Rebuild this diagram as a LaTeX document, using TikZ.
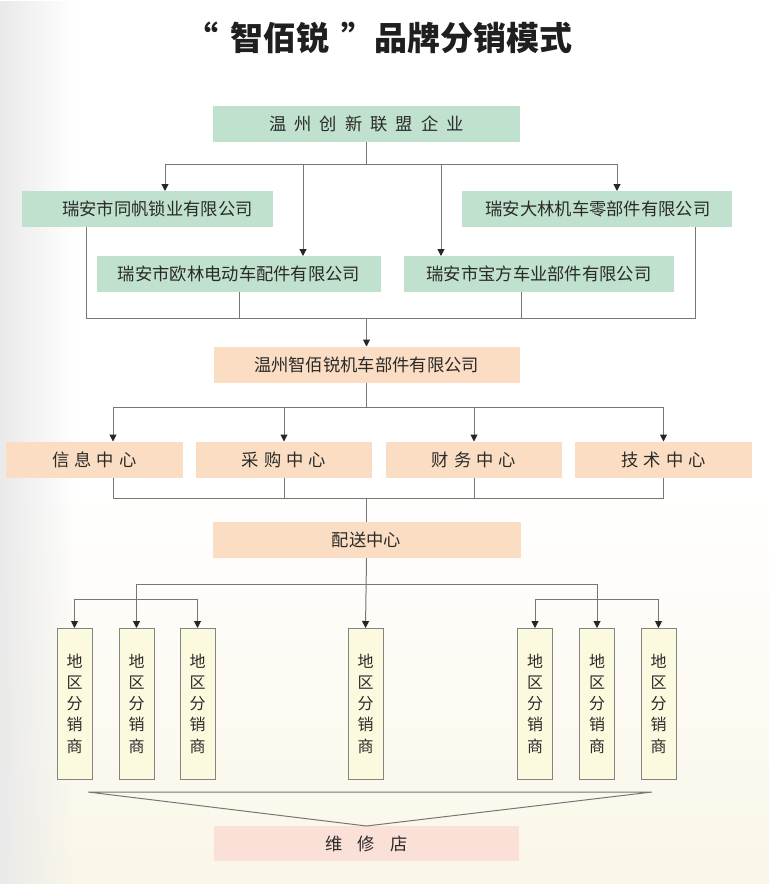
\documentclass[tikz,border=0pt]{standalone}
\usepackage{fontspec}
\setmainfont{Noto Sans CJK SC}
\usetikzlibrary{arrows.meta,fadings}
\definecolor{grn}{RGB}{191,225,205}
\definecolor{pch}{RGB}{250,221,194}
\definecolor{ylw}{RGB}{252,250,222}
\definecolor{pnk}{RGB}{250,224,215}
\definecolor{lnc}{RGB}{118,118,118}
\definecolor{txt}{RGB}{42,42,42}
\definecolor{crm}{RGB}{250,246,232}
\definecolor{lgr}{RGB}{234,234,234}
\newcommand\gapx[1]{\hspace{#1pt}}
\begin{document}
\begin{tikzpicture}[x=1pt,y=-1pt,
  box/.style={inner sep=0pt, outer sep=0pt, text=txt, font=\fontsize{17.3}{17.3}\selectfont},
  gbox/.style={box, fill=grn, minimum height=36pt},
  pbox/.style={box, fill=pch, minimum height=36pt},
  dist/.style={box, fill=ylw, draw=lnc!90, line width=0.9pt, minimum width=35pt, minimum height=151pt, align=center, font=\fontsize{16}{21.3}\selectfont},
  ln/.style={draw=lnc, line width=1pt},
  ar/.style={ln, -{Triangle[length=7pt,width=7pt,color=black!85]}}]
% background
\useasboundingbox (0,0) rectangle (769,884);
\fill[white] (0,0) rectangle (769,884);
\shade[top color=white, bottom color=crm] (0,480) rectangle (769,884);
\fill[lgr, path fading=east] (0,0) rectangle (75,884);
% title
\node[text=black!88, font=\fontsize{33}{33}\selectfont\bfseries] (title) at (379,38) {“\gapx{12}智佰锐\gapx{12}”品牌分销模式};
% level 1
\node[gbox, minimum width=307pt] (T) at (366.5,124) {温\gapx{8}州\gapx{8}创\gapx{8}新\gapx{8}联\gapx{8}盟\gapx{8}企\gapx{8}业};
\node[gbox, minimum width=251pt] (A) at (147.5,209) {\hspace*{20pt}瑞安市同帆锁业有限公司};
\node[gbox, minimum width=270pt] (D) at (597,209) {\hspace*{2pt}瑞安大林机车零部件有限公司};
\node[gbox, minimum width=284pt] (B) at (239,274) {瑞安市欧林电动车配件有限公司};
\node[gbox, minimum width=270pt] (C) at (539,274) {瑞安市宝方车业部件有限公司};
% level 2
\node[pbox, minimum width=306pt] (E) at (366.5,364.5) {温州智佰锐机车部件有限公司};
\node[pbox, minimum width=177pt] (F1) at (94.5,459.5) {信\gapx{5}息\gapx{5}中\gapx{5}心};
\node[pbox, minimum width=176pt] (F2) at (284,459.5) {采\gapx{5}购\gapx{5}中\gapx{5}心};
\node[pbox, minimum width=176pt] (F3) at (474,459.5) {财\gapx{5}务\gapx{5}中\gapx{5}心};
\node[pbox, minimum width=177pt] (F4) at (663.5,459.5) {技\gapx{5}术\gapx{5}中\gapx{5}心};
\node[pbox, minimum width=308pt] (G) at (366.5,540) {配送中心};
% distributors
\node[dist] (d1) at (74.5,703.5) {地\\区\\分\\销\\商};
\node[dist] (d2) at (136.5,703.5) {地\\区\\分\\销\\商};
\node[dist] (d3) at (197.5,703.5) {地\\区\\分\\销\\商};
\node[dist] (d4) at (365.5,703.5) {地\\区\\分\\销\\商};
\node[dist] (d5) at (535,703.5) {地\\区\\分\\销\\商};
\node[dist] (d6) at (597,703.5) {地\\区\\分\\销\\商};
\node[dist] (d7) at (658.5,703.5) {地\\区\\分\\销\\商};
% repair
\node[box, fill=pnk, minimum width=305pt, minimum height=35pt] (H) at (366.5,843.5) {维\gapx{15}修\gapx{15}店};
% bus coordinates
\coordinate (b1) at (0,164);
\coordinate (b2) at (0,318);
\coordinate (b3) at (0,407);
\coordinate (b4) at (0,498);
\coordinate (b5) at (0,584);
\coordinate (b6) at (0,599);
\coordinate (aA) at ([xshift=17.5pt]A.north);
\coordinate (aB) at ([xshift=64pt]B.north);
\coordinate (aC) at ([xshift=-98pt]C.north);
\coordinate (aD) at ([xshift=20pt]D.north);
\coordinate (sA) at ([xshift=-61.5pt]A.south);
\coordinate (sC) at ([xshift=-18pt]C.south);
\coordinate (sD) at ([xshift=98pt]D.south);
\coordinate (aF) at ([xshift=18.5pt]F1.north);
\coordinate (sF) at ([xshift=18.5pt]F1.south);
% top connectors
\draw[ln] (T.south) -- (T.south |- b1);
\draw[ln] (aA |- b1) -- (aD |- b1);
\draw[ar] (aA |- b1) -- (aA);
\draw[ar] (aB |- b1) -- (aB);
\draw[ar] (aC |- b1) -- (aC);
\draw[ar] (aD |- b1) -- (aD);
\draw[ln] (sA) -- (sA |- b2) -- (sD |- b2) -- (sD);
\draw[ln] (B.south) -- (B.south |- b2);
\draw[ln] (sC) -- (sC |- b2);
\draw[ar] (E.north |- b2) -- (E.north);
% centers
\draw[ln] (E.south) -- (E.south |- b3);
\draw[ln] (aF |- b3) -- (F4.north |- b3);
\draw[ar] (aF |- b3) -- (aF);
\draw[ar] (F2.north |- b3) -- (F2.north);
\draw[ar] (F3.north |- b3) -- (F3.north);
\draw[ar] (F4.north |- b3) -- (F4.north);
\draw[ln] (sF) -- (sF |- b4) -- (F4.south |- b4) -- (F4.south);
\draw[ln] (F2.south) -- (F2.south |- b4);
\draw[ln] (F3.south) -- (F3.south |- b4);
\draw[ln] (G.north |- b4) -- (G.north);
% distribution
\draw[ar] (G.south) -- (d4.north);
\draw[ln] (d2.north |- b5) -- (d6.north |- b5);
\draw[ar] (d2.north |- b5) -- (d2.north);
\draw[ar] (d6.north |- b5) -- (d6.north);
\draw[ln] (d1.north |- b6) -- (d3.north |- b6);
\draw[ar] (d1.north |- b6) -- (d1.north);
\draw[ar] (d3.north |- b6) -- (d3.north);
\draw[ln] (d5.north |- b6) -- (d7.north |- b6);
\draw[ar] (d5.north |- b6) -- (d5.north);
\draw[ar] (d7.north |- b6) -- (d7.north);
% funnel
\coordinate (f1) at (88,792);
\coordinate (f2) at (652,792);
\draw[ln, line join=miter] (f1) -- (f2) -- (H.north) -- cycle;
\end{tikzpicture}
\end{document}
